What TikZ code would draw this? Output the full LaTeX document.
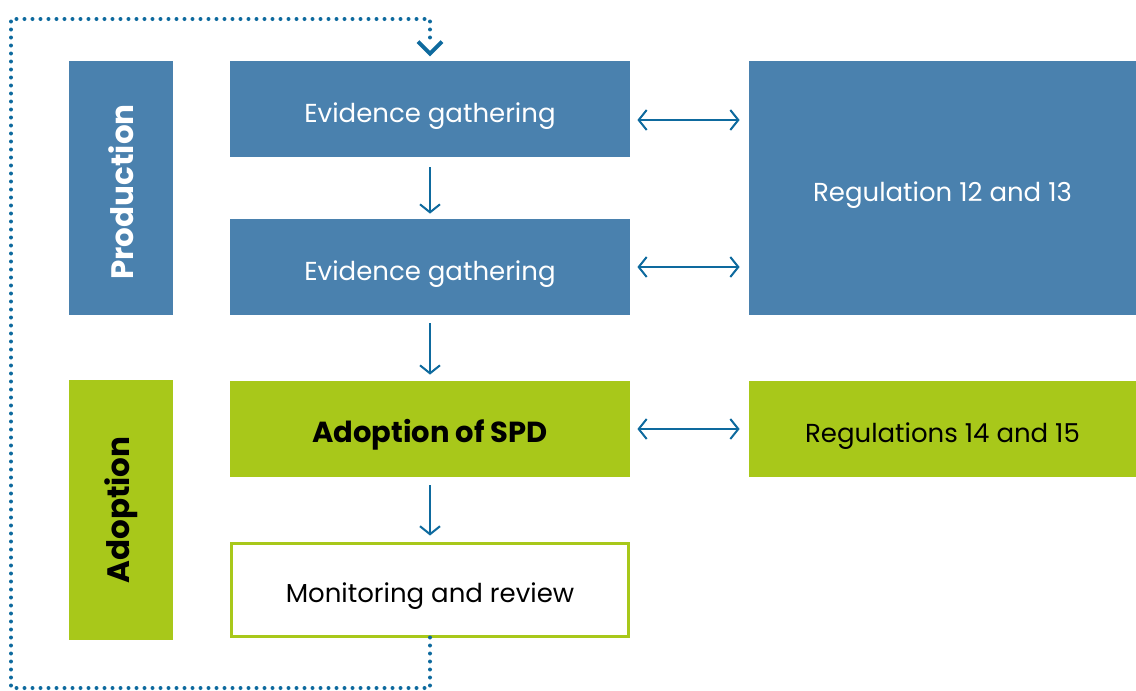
\documentclass[tikz,border=0pt]{standalone}
\usepackage{fontspec}
\setmainfont{Poppins}
\usetikzlibrary{arrows.meta}

\definecolor{stageblue}{HTML}{4A81AE}
\definecolor{stagegreen}{HTML}{A8C81A}
\definecolor{linkblue}{HTML}{0E6A9E}

\tikzset{
  box/.style={minimum width=200pt,minimum height=48pt,inner sep=0pt,text=white,text height=13pt,text depth=0pt,font=\fontsize{13}{15}\selectfont},
  bluebox/.style={box,fill=stageblue},
  greenbox/.style={box,fill=stagegreen,text=black},
  phase/.style={minimum width=52pt,inner sep=0pt,text=white,rotate=90,font=\bfseries\fontsize{15.5}{17}\selectfont},
  flow/.style={draw=linkblue,line width=1pt,-{Straight Barb[length=4pt,width=10pt,line width=1pt]}},
  link/.style={draw=linkblue,line width=1pt,{Straight Barb[length=4pt,width=10pt,line width=1pt]}-{Straight Barb[length=4pt,width=10pt,line width=1pt]}},
  loop/.style={draw=linkblue,line width=2pt,line cap=round,dash pattern=on 0pt off 4pt}
}

\begin{document}
\begin{tikzpicture}[x=0.5pt,y=-0.5pt]
\useasboundingbox (0,0) rectangle (1136,691);
% side bars for the two stages
\node[fill=stageblue,minimum width=52pt,minimum height=127pt,inner sep=0pt] (prodbar) at (121,188) {};
\node[phase] at ([yshift=-2pt]prodbar.center) {Production};
\node[fill=stagegreen,minimum width=52pt,minimum height=130pt,inner sep=0pt] (adopbar) at (121,510) {};
\node[phase,text=black] at (adopbar.center) {Adoption};
% main column
\node[bluebox] (gather1) at (430,109) {Evidence gathering};
\node[bluebox] (gather2) at (430,267) {Evidence gathering};
\node[greenbox,font=\bfseries\fontsize{14.5}{16}\selectfont] (adopt) at (430,429) {Adoption of SPD};
\node[box,text=black,draw=stagegreen,line width=1.5pt,minimum width=198.5pt,minimum height=46.5pt] (monitor) at (430,589.5) {Monitoring and review};
% regulations
\node[bluebox,minimum width=193.5pt,minimum height=127pt] (reg1213) at (942.5,188) {Regulation 12 and 13};
\node[greenbox,minimum width=193.5pt] (reg1415) at (942.5,429) {Regulations 14 and 15};
% arrows
\draw[flow] ([yshift=-5pt]gather1.south) -- ([yshift=2.5pt]gather2.north);
\draw[flow] ([yshift=-4pt]gather2.south) -- ([yshift=3pt]adopt.north);
\draw[flow] ([yshift=-4pt]adopt.south) -- ([yshift=3pt]monitor.north);
\draw[link] ([xshift=3.5pt,yshift=-5.5pt]gather1.east) -- ([xshift=-4.5pt,yshift=-5.5pt]gather1.east -| reg1213.west);
\draw[link] ([xshift=3.5pt]gather2.east) -- ([xshift=-4.5pt]gather2.east -| reg1213.west);
\draw[link] ([xshift=3.5pt]adopt.east) -- ([xshift=-4.5pt]reg1415.west);
% review loop back to the start
\coordinate (loopbl) at (11,688);
\coordinate (looptl) at (11,19);
\draw[loop] (monitor.south) -- (monitor.south |- loopbl) -- (loopbl) -- (looptl) -- (looptl -| gather1.north) -- ([yshift=9pt]gather1.north);
\draw[linkblue,line width=2pt] ([xshift=-6pt,yshift=9.5pt]gather1.north) -- ([yshift=3.5pt]gather1.north) -- ([xshift=6pt,yshift=9.5pt]gather1.north);
\end{tikzpicture}
\end{document}
